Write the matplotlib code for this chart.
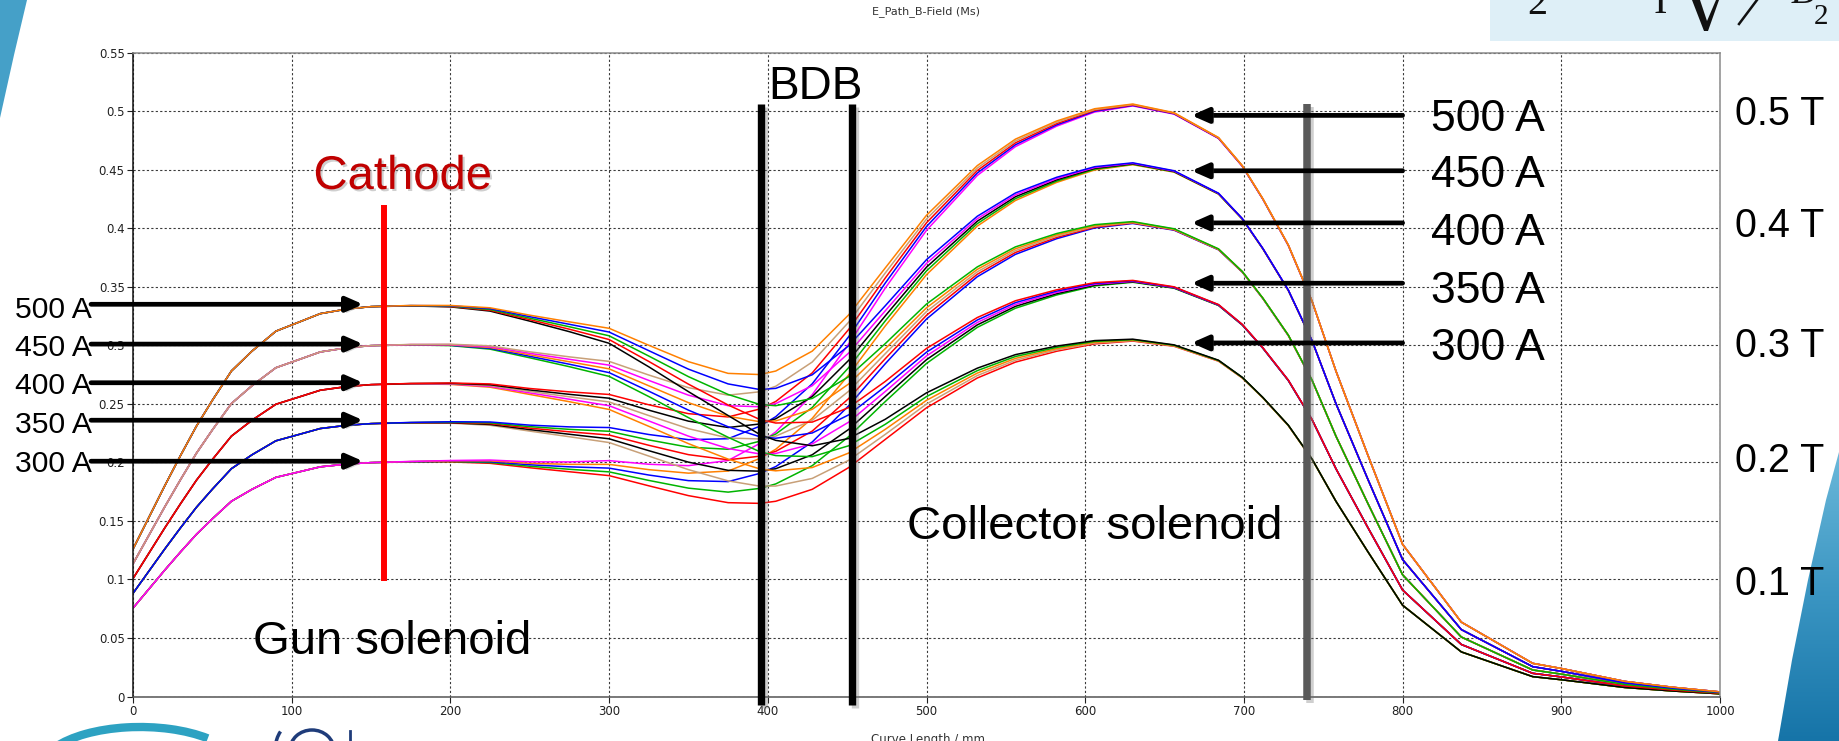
import matplotlib
matplotlib.use("Agg")
import matplotlib.pyplot as plt
import numpy as np
from matplotlib.patches import Polygon, Rectangle, Arc
from matplotlib import patheffects as pe
from matplotlib import transforms
from matplotlib.colors import LinearSegmentedColormap

plt.rcParams['font.family'] = ['Liberation Sans', 'DejaVu Sans']

# ---------------- data ----------------
curve_length_mm = [0, 10, 20, 30, 40, 50, 62, 75, 90, 105, 118, 135, 150, 175, 200,
                   225, 250, 275, 300, 325, 350, 375, 395, 405, 428, 451, 474, 500,
                   532, 556, 582, 606, 630, 656, 684, 699, 712, 728, 743, 758, 778,
                   800, 837, 882, 900, 940, 970, 1000]
# field profile of the gun solenoid alone at 500 A (T)
gun_field_500A = [0.126, 0.153, 0.180, 0.206, 0.231, 0.253, 0.278, 0.295, 0.312, 0.320,
                  0.327, 0.331, 0.333, 0.333, 0.331, 0.325, 0.313, 0.299, 0.2825, 0.254,
                  0.222, 0.186, 0.147, 0.130, 0.093, 0.062, 0.043, 0.032, 0.021, 0.016,
                  0.011, 0.007, 0.004, 0.003, 0.002, 0.0015, 0.001, 0.001, 0.0005, 0.0,
                  0.0, 0.0, 0.0, 0.0, 0.0, 0.0, 0.0, 0.0]
# field profile of the collector solenoid alone at 500 A (T)
collector_field_500A = [0.0, 0.0, 0.0, 0.0, 0.0, 0.0, 0.0, 0.0, 0.0, 0.0, 0.0, 0.0, 0.0,
                        0.001, 0.003, 0.007, 0.0127, 0.021, 0.032, 0.046, 0.064, 0.090,
                        0.128, 0.148, 0.202, 0.264, 0.323, 0.379, 0.4324, 0.460, 0.4805,
                        0.495, 0.502, 0.4956, 0.4754, 0.4519, 0.424, 0.3846, 0.337, 0.278,
                        0.2066, 0.130, 0.0636, 0.0284, 0.024, 0.013, 0.008, 0.004]
gun_currents = [300, 350, 400, 450, 500]
collector_currents = [300, 350, 400, 450, 500]
curve_colors = ['#FF0000', '#00B400', '#0000FF', '#FF8000', '#FF00FF', '#C8A078', '#000000']

gun_labels = ['500 A', '450 A', '400 A', '350 A', '300 A']
gun_arrow_levels = [0.335, 0.301, 0.268, 0.236, 0.201]
gun_label_baselines = [0.3233, 0.2906, 0.2585, 0.2253, 0.192]
coll_labels = ['500 A', '450 A', '400 A', '350 A', '300 A']
coll_arrow_levels = [0.4963, 0.449, 0.4045, 0.353, 0.302]
coll_label_baselines = [0.483, 0.435, 0.3856, 0.3359, 0.2873]
tesla_labels = ['0.5 T', '0.4 T', '0.3 T', '0.2 T', '0.1 T']
tesla_baselines = [0.4879, 0.3927, 0.290, 0.192, 0.0868]

x_ticks = [0, 100, 200, 300, 400, 500, 600, 700, 800, 900, 1000]
y_ticks = [0, 0.05, 0.1, 0.15, 0.2, 0.25, 0.3, 0.35, 0.4, 0.45, 0.5, 0.55]
y_tick_labels = ['0', '0.05', '0.1', '0.15', '0.2', '0.25', '0.3', '0.35', '0.4', '0.45', '0.5', '0.55']

cathode_mm = 158
bdb_mm = [396, 453]
collector_mark_mm = 740

# ---------------- figure ----------------
W, H = 1839, 741
fig = plt.figure(figsize=(W / 100, H / 100), dpi=100)
fig.patch.set_facecolor('white')

# background decoration layer (pixel coordinates, y downwards)
bg = fig.add_axes([0, 0, 1, 1], zorder=0)
bg.set_xlim(0, W)
bg.set_ylim(H, 0)
bg.axis('off')

# top-left blue swoosh
bg.add_patch(Polygon([(0, 0), (27, 0), (14, 55), (0, 118)], closed=True,
                     facecolor='#45A0C8', edgecolor='none'))
# bottom-right blue swoosh with gradient
poly = Polygon([(1839, 452), (1826, 500), (1808, 580), (1792, 660), (1778, 741), (1839, 741)],
               closed=True, facecolor='none', edgecolor='none')
bg.add_patch(poly)
cmap = LinearSegmentedColormap.from_list('sw', ['#6CB9DA', '#3A95C2', '#1674A8'])
grad = np.linspace(0, 1, 256).reshape(-1, 1)
im = bg.imshow(grad, extent=(1770, 1839, 741, 450), cmap=cmap, aspect='auto', zorder=1)
im.set_clip_path(poly)

# formula box fragment at top right
bg.add_patch(Rectangle((1490, 0), W - 1490, 40.7, facecolor='#DEEFF7', edgecolor='none'))
serif = ['Liberation Serif', 'DejaVu Serif']
bg.text(1537, 14, '2', fontsize=29, family=serif, ha='center', va='baseline', color='#111111')
bg.text(1660, 13, 'I', fontsize=29, family=serif, ha='center', va='baseline', color='#111111')
bg.add_patch(Polygon([(1692, 0), (1700, 0), (1707, 21), (1716, 0), (1719, 0), (1708, 31), (1704, 31)],
                     closed=True, facecolor='#111111', edgecolor='none'))
bg.plot([1739, 1757], [24, 0], color='#111111', lw=1.8)
bg.text(1803, 3, 'B', fontsize=29, family=serif, style='italic', ha='center', va='baseline', color='#111111')
bg.text(1821, 24, '2', fontsize=21, family=serif, ha='center', va='baseline', color='#111111')

# bottom-left logo fragment (y axis inverted: upper arcs use theta 180..360)
bg.add_patch(Arc((140, 770), 200, 86, theta1=195, theta2=335, lw=6, color='#2DA2C2'))
bg.add_patch(Arc((288, 752), 26, 50, theta1=190, theta2=250, lw=2.5, color='#1F3C7A'))
bg.add_patch(Arc((312, 750), 44, 40, theta1=180, theta2=360, lw=2.5, color='#1F3C7A'))
bg.plot([350, 350], [731, 741], color='#1F3C7A', lw=2)

# ---------------- main axes ----------------
x0, x1, ytop, ybot = 133, 1720, 52.5, 696.6
ax = fig.add_axes([x0 / W, 1 - ybot / H, (x1 - x0) / W, (ybot - ytop) / H], zorder=1)
ax.set_facecolor('white')

x = np.array(curve_length_mm)
G = np.array(gun_field_500A)
C = np.array(collector_field_500A)
i = 0
for Ig in gun_currents:
    for Ic in collector_currents:
        B = Ig / 500.0 * G + Ic / 500.0 * C
        ax.plot(x, B, color=curve_colors[i % len(curve_colors)], lw=1.1, zorder=2)
        i += 1

ax.set_xlim(0, 1000)
ax.set_ylim(0, 0.55)
ax.set_xticks(x_ticks)
ax.set_xticklabels([str(t) for t in x_ticks])
ax.set_yticks(y_ticks)
ax.set_yticklabels(y_tick_labels)
ax.tick_params(direction='out', length=4, width=0.8, labelsize=8.5, colors='#202020', pad=2)
for lbl in ax.get_xticklabels() + ax.get_yticklabels():
    lbl.set_fontfamily('DejaVu Sans')
ax.grid(True, linestyle=(0, (2, 2)), color='#3A3A3A', lw=0.8)
ax.set_axisbelow(True)
ax.spines['left'].set_color('#111111')
ax.spines['bottom'].set_color('#555555')
ax.spines['top'].set_color('#8A8A8A')
ax.spines['right'].set_color('#8A8A8A')
for s in ax.spines.values():
    s.set_linewidth(1.1)

shadow = [pe.SimpleLineShadow(offset=(2, -2), shadow_color='#777777', alpha=0.35), pe.Normal()]

# cathode marker
ax.plot([cathode_mm, cathode_mm], [0.099, 0.42], color='#FF0000', lw=4.3,
        solid_capstyle='butt', zorder=4)
# BDB bars
for xb in bdb_mm:
    ax.plot([xb, xb], [-0.007, 0.506], color='black', lw=5.3, solid_capstyle='butt',
            clip_on=False, zorder=5, path_effects=shadow)
# collector mark
ax.plot([collector_mark_mm, collector_mark_mm], [-0.003, 0.506], color='#5A5A5A', lw=5.4,
        solid_capstyle='butt', clip_on=False, zorder=5, path_effects=shadow)

big = 34
ax.text(170, 0.4335, 'Cathode', color='#C00000', fontsize=big, ha='center', va='baseline', zorder=6,
        path_effects=[pe.withSimplePatchShadow(offset=(1.5, -1.5), shadow_rgbFace='#888888', alpha=0.4)])
ax.text(163, 0.0366, 'Gun solenoid', color='black', fontsize=big, ha='center', va='baseline', zorder=6)
ax.text(606, 0.1347, 'Collector solenoid', color='black', fontsize=big, ha='center', va='baseline', zorder=6)
ax.text(430, 0.5099, 'BDB', color='black', fontsize=33, ha='center', va='baseline', zorder=6)

arrow_props = dict(arrowstyle='-|>,head_length=0.5,head_width=0.22', lw=3.4, color='black',
                   shrinkA=0, shrinkB=0, mutation_scale=20)

tr = transforms.blended_transform_factory(fig.transFigure, ax.transData)

# gun-current arrows and labels (left)
for lab, ya, yb in zip(gun_labels, gun_arrow_levels, gun_label_baselines):
    ann = ax.annotate('', xy=(145, ya), xycoords='data', xytext=(91, ya),
                      textcoords=('figure pixels', 'data'), arrowprops=arrow_props,
                      annotation_clip=False, zorder=6)
    ann.arrow_patch.set_clip_on(False)
    ann.arrow_patch.set_path_effects(
        [pe.withSimplePatchShadow(offset=(2, -2), shadow_rgbFace='#888888', alpha=0.35)])
    ax.text(92 / W, yb, lab, transform=tr, fontsize=21.7, ha='right', va='baseline',
            clip_on=False, zorder=7)

# collector-current arrows and labels (right)
for lab, ya, yb in zip(coll_labels, coll_arrow_levels, coll_label_baselines):
    ann = ax.annotate('', xy=(667, ya), xycoords='data', xytext=(800, ya),
                      textcoords='data', arrowprops=arrow_props, annotation_clip=False, zorder=6)
    ann.arrow_patch.set_path_effects(
        [pe.withSimplePatchShadow(offset=(2, -2), shadow_rgbFace='#888888', alpha=0.35)])
    ax.text(818, yb, lab, fontsize=32, ha='left', va='baseline', zorder=7)

# Tesla labels (outside, right)
for lab, yb in zip(tesla_labels, tesla_baselines):
    ax.text(1735 / W, yb, lab, transform=tr, fontsize=28.5, ha='left', va='baseline',
            clip_on=False, zorder=7)

# title and x label (CST plot)
fig.text(926 / W, 1 - 12 / H, 'E_Path_B-Field (Ms)', ha='center', va='center', fontsize=8,
         family='DejaVu Sans', color='#333333')
fig.text(928 / W, 1 - 739 / H, 'Curve Length / mm', ha='center', va='center', fontsize=8.5,
         family='DejaVu Sans', color='#333333')

fig.savefig('out.png', dpi=100, facecolor='white')
